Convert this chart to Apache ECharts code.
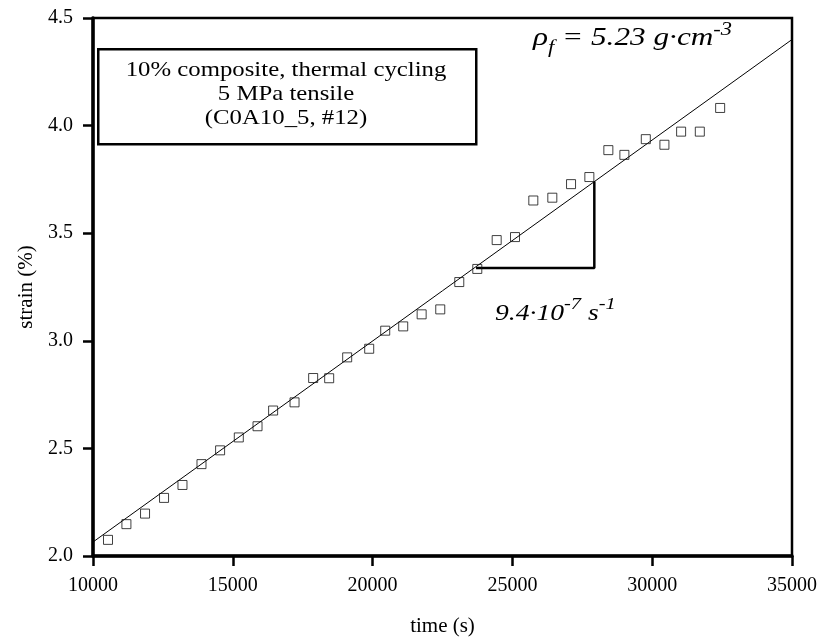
<!DOCTYPE html>
<html>
<head>
<meta charset="utf-8">
<script src="https://cdn.jsdelivr.net/npm/echarts@6/dist/echarts.min.js"></script>
<style>
html,body{margin:0;padding:0;background:#fff;}
#chart{width:820px;height:642px;}
</style>
</head>
<body>
<div id="chart"></div>
<script>
// ---- data ----
const timeS = [10537, 11195, 11861, 12541, 13200, 13880, 14546, 15215, 15884, 16442,
  17208, 17874, 18447, 19091, 19878, 20451, 21095, 21754, 22420, 23100,
  23744, 24438, 25093, 25748, 26428, 27097, 27752, 28432, 29005, 29771,
  30437, 31034, 31703, 32430];
const strainPct = [2.075, 2.148, 2.197, 2.270, 2.330, 2.427, 2.491, 2.551, 2.603, 2.676,
  2.714, 2.827, 2.826, 2.923, 2.963, 3.047, 3.067, 3.123, 3.146, 3.273,
  3.334, 3.468, 3.482, 3.652, 3.665, 3.728, 3.761, 3.886, 3.864, 3.937,
  3.911, 3.972, 3.972, 4.082];
const fitX = [10000, 35000];
const fitY = [2.065, 4.40];
const slopeX = [23700, 27930, 27930];
const slopeY = [3.338, 3.338, 3.74];
const xTicks = [10000, 15000, 20000, 25000, 30000, 35000];
const yTicks = [2.0, 2.5, 3.0, 3.5, 4.0, 4.5];
const boxLines = ['10% composite, thermal cycling', '5 MPa tensile', '(C0A10_5, #12)'];

const FONT = '"Liberation Serif", "Times New Roman", serif';
const chart = echarts.init(document.getElementById('chart'), null, {renderer: 'canvas'});

const option = {
  backgroundColor: '#fff',
  animation: false,
  grid: {left: 93, right: 28, top: 18, bottom: 78, show: true, borderColor: '#000', borderWidth: 2.5, backgroundColor: 'transparent'},
  xAxis: {
    type: 'value', min: xTicks[0], max: xTicks[xTicks.length - 1], interval: 5000,
    name: 'time (s)', nameLocation: 'middle', nameGap: 60,
    nameTextStyle: {fontFamily: FONT, fontSize: 21, color: '#000'},
    axisLine: {show: true, onZero: false, lineStyle: {color: '#000', width: 3.5}},
    axisTick: {show: true, inside: false, length: 10, lineStyle: {color: '#000', width: 2.5}},
    axisLabel: {fontFamily: FONT, fontSize: 20, color: '#000', margin: 20, formatter: v => String(v)},
    splitLine: {show: false}
  },
  yAxis: {
    type: 'value', min: yTicks[0], max: yTicks[yTicks.length - 1], interval: 0.5,
    name: 'strain (%)', nameLocation: 'middle', nameGap: 56, nameRotate: 90,
    nameTextStyle: {fontFamily: FONT, fontSize: 21, color: '#000'},
    axisLine: {show: true, onZero: false, lineStyle: {color: '#000', width: 3.5}},
    axisTick: {show: true, inside: false, length: 10, lineStyle: {color: '#000', width: 2.5}},
    axisLabel: {fontFamily: FONT, fontSize: 20, color: '#000', margin: 20, formatter: v => v.toFixed(1)},
    splitLine: {show: false}
  },
  series: [
    {
      type: 'line', data: fitX.map((x, i) => [x, fitY[i]]), symbol: 'none',
      lineStyle: {color: '#000', width: 1}, silent: true, z: 2
    },
    {
      type: 'line', data: slopeX.map((x, i) => [x, slopeY[i]]), symbol: 'none',
      lineStyle: {color: '#000', width: 2.5}, silent: true, z: 2
    },
    {
      type: 'scatter', data: timeS.map((x, i) => [x, strainPct[i]]),
      symbol: 'rect', symbolSize: 9,
      itemStyle: {color: 'rgba(255,255,255,0)', borderColor: '#111', borderWidth: 1}, z: 3
    }
  ],
  graphic: [
    {
      type: 'rect', left: 97, top: 48, z: 10,
      shape: {width: 378, height: 95},
      style: {fill: '#fff', stroke: '#000', lineWidth: 2.5}
    },
    {
      type: 'text', z: 11, x: 286, y: 58, scaleX: 1.18,
      style: {
        text: boxLines.join('\n'), fontFamily: FONT, fontSize: 21, lineHeight: 24,
        fill: '#000', align: 'center', verticalAlign: 'top'
      }
    },
    {
      type: 'text', z: 11, x: 533, y: 21, scaleX: 1.25,
      style: {
        text: '{i|ρ}{s|f}{i| = 5.23 g·cm}{p|-3}',
        rich: {
          i: {fontFamily: FONT, fontStyle: 'italic', fontSize: 25, fill: '#000', verticalAlign: 'bottom'},
          s: {fontFamily: FONT, fontStyle: 'italic', fontSize: 18, fill: '#000', padding: [0, 0, -6, 0], verticalAlign: 'bottom'},
          p: {fontFamily: FONT, fontStyle: 'italic', fontSize: 18, fill: '#000', padding: [0, 0, 12, 0], verticalAlign: 'bottom'}
        }
      }
    },
    {
      type: 'text', z: 11, x: 495, y: 296, scaleX: 1.2,
      style: {
        text: '{i|9.4·10}{p|-7}{i| s}{p|-1}',
        rich: {
          i: {fontFamily: FONT, fontStyle: 'italic', fontSize: 23, fill: '#000', verticalAlign: 'bottom'},
          p: {fontFamily: FONT, fontStyle: 'italic', fontSize: 17, fill: '#000', padding: [0, 0, 12, 0], verticalAlign: 'bottom'}
        }
      }
    }
  ]
};
chart.setOption(option);
</script>
</body>
</html>
